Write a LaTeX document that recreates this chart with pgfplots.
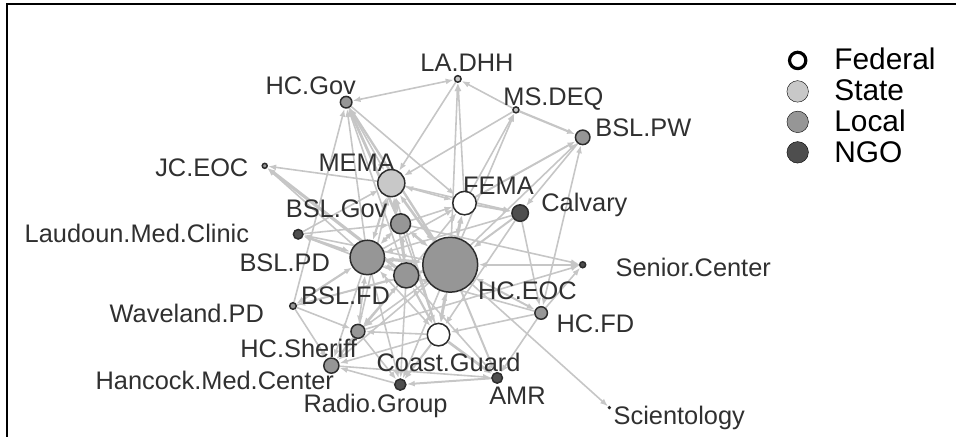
\documentclass[border=0pt]{standalone}
\usepackage{pgfplots}
\pgfplotsset{compat=1.18}
\usetikzlibrary{arrows.meta}
\usepackage{fontspec}
\setmainfont{Liberation Sans}

\definecolor{edgec}{RGB}{198,198,198}
\definecolor{fedc}{RGB}{255,255,255}
\definecolor{statec}{RGB}{200,200,200}
\definecolor{localc}{RGB}{150,150,150}
\definecolor{ngoc}{RGB}{78,78,78}
\definecolor{bordc}{RGB}{45,45,45}
\definecolor{labc}{RGB}{48,48,48}

\newcommand\labfont{\fontsize{25.5}{28}\selectfont}
\newcommand\legfont{\fontsize{30}{31}\selectfont}

% node name, x (px), y (px from top), radius, fill colour
\newcommand\defnode[5]{%
 \expandafter\def\csname nx:#1\endcsname{#2}%
 \expandafter\def\csname ny:#1\endcsname{#3}%
 \expandafter\def\csname nr:#1\endcsname{#4}%
 \expandafter\def\csname nc:#1\endcsname{#5}}

\defnode{HCGov}{346.5}{102.3}{5.8}{localc}
\defnode{LADHH}{458.3}{79}{3.3}{statec}
\defnode{MSDEQ}{516.5}{110}{3}{statec}
\defnode{BSLPW}{583.3}{137.5}{7.3}{localc}
\defnode{JCEOC}{265}{166}{2.5}{localc}
\defnode{MEMA}{391.7}{183.3}{13.6}{statec}
\defnode{FEMA}{465}{203.3}{11.8}{fedc}
\defnode{Calvary}{520.7}{213.3}{8.3}{ngoc}
\defnode{BSLGov}{401}{224}{10}{localc}
\defnode{Laudoun}{298.5}{234.5}{4.8}{ngoc}
\defnode{BSLPD}{367.7}{257.7}{17.3}{localc}
\defnode{HCEOC}{450.7}{265}{27.6}{localc}
\defnode{BSLFD}{406.7}{275.7}{12.6}{localc}
\defnode{Senior}{583.3}{265}{3}{ngoc}
\defnode{Waveland}{293.3}{306.3}{3.3}{localc}
\defnode{HCFD}{541.7}{313.3}{6.3}{localc}
\defnode{Sheriff}{358.3}{331.7}{7}{localc}
\defnode{CG}{439}{335}{11.3}{fedc}
\defnode{Hancock}{331.7}{366}{7.6}{localc}
\defnode{Radio}{400.7}{385}{5.6}{ngoc}
\defnode{AMR}{497.7}{378.3}{5.3}{ngoc}
\defnode{Scient}{610}{408}{0.8}{ngoc}

\pgfplotsset{
  netedge/.style={forget plot, mark=none, color=edgec, line width=1.6pt,
    -{Latex[length=8pt,width=6pt]}},
  bi/.style={{Latex[length=8pt,width=6pt]}-{Latex[length=8pt,width=6pt]}},
}

\newcommand\E[3][]{%
 \pgfmathsetmacro\sa{\csname nr:#2\endcsname+0.8}%
 \pgfmathsetmacro\sb{\csname nr:#3\endcsname+1.0}%
 \edef\tmp{\noexpand\addplot[netedge,#1,shorten <=\sa pt,shorten >=\sb pt] coordinates {(\csname nx:#2\endcsname,\csname ny:#2\endcsname) (\csname nx:#3\endcsname,\csname ny:#3\endcsname)};}\tmp}
\newcommand\B[3][]{\E[bi,#1]{#2}{#3}}

\newcommand\N[1]{%
 \edef\tmp{\noexpand\addplot[forget plot, only marks, mark=*, mark size=\csname nr:#1\endcsname pt, mark options={fill=\csname nc:#1\endcsname, draw=bordc, line width=1.5pt}] coordinates {(\csname nx:#1\endcsname,\csname ny:#1\endcsname)};}\tmp}

\newcommand\Lab[3]{\node[font=\labfont, text=labc, anchor=base, inner sep=0pt] at (axis cs:#1,#2) {#3};}

\begin{document}
\begin{tikzpicture}
\begin{axis}[
  scale only axis, width=957bp, height=437bp,
  xmin=0, xmax=957, ymin=0, ymax=437, y dir=reverse,
  hide axis, clip=false,
]
% ---- edges ----
\B{HCGov}{LADHH}
\E{MSDEQ}{LADHH}
\E[line width=2.2pt]{MSDEQ}{BSLPW}
\E{LADHH}{MEMA}
\E{FEMA}{LADHH}
\E{HCEOC}{LADHH}
\E{MSDEQ}{MEMA}
\E{FEMA}{MSDEQ}
\E{HCEOC}{MSDEQ}
\E[line width=2pt]{FEMA}{BSLPW}
\E{BSLPW}{Calvary}
\E{HCEOC}{BSLPW}
\B{BSLPW}{HCFD}
\E{HCGov}{MEMA}
\E[line width=2.8pt]{BSLGov}{HCGov}
\E[line width=2.4pt]{HCEOC}{HCGov}
\E{BSLPD}{HCGov}
\E{Waveland}{HCGov}
\E{HCGov}{FEMA}
\E{BSLFD}{HCGov}
\E{MEMA}{JCEOC}
\E[line width=3.2pt]{BSLFD}{JCEOC}
\E{BSLPD}{JCEOC}
\B{MEMA}{FEMA}
\B[line width=2.7pt]{MEMA}{HCEOC}
\B[line width=2.2pt]{MEMA}{BSLGov}
\B[line width=2.2pt]{MEMA}{BSLPD}
\E{BSLFD}{MEMA}
\E{CG}{MEMA}
\E{MEMA}{Calvary}
\E{Laudoun}{MEMA}
\E{Sheriff}{MEMA}
\B[line width=2.7pt]{FEMA}{HCEOC}
\E[line width=2pt]{FEMA}{Calvary}
\E{BSLGov}{FEMA}
\E{BSLPD}{FEMA}
\B{FEMA}{CG}
\E{BSLFD}{FEMA}
\E[line width=2pt]{Calvary}{HCEOC}
\E{Calvary}{HCFD}
\E{Calvary}{BSLPD}
\E{Calvary}{CG}
\E[line width=2.2pt]{Senior}{HCEOC}
\E{HCFD}{Senior}
\E{Sheriff}{Senior}
\E{BSLGov}{Senior}
\B[line width=3.2pt]{HCEOC}{BSLPD}
\B[line width=2.7pt]{HCEOC}{BSLFD}
\B[line width=2.7pt]{HCEOC}{BSLGov}
\B[line width=2pt]{HCEOC}{HCFD}
\B[line width=2.7pt]{HCEOC}{CG}
\E[line width=2pt]{HCEOC}{AMR}
\E{HCEOC}{Radio}
\E{HCEOC}{Sheriff}
\E{HCEOC}{Hancock}
\E{HCEOC}{Waveland}
\E{HCEOC}{Laudoun}
\E{HCEOC}{Scient}
\E{HCFD}{CG}
\E{HCFD}{AMR}
\E{HCFD}{BSLFD}
\E[line width=2.7pt]{CG}{AMR}
\E{BSLFD}{AMR}
\E{Hancock}{AMR}
\E[line width=2pt]{AMR}{Radio}
\E[line width=2pt]{CG}{Radio}
\E{BSLFD}{Radio}
\E{BSLPD}{Radio}
\E{Sheriff}{Radio}
\E{Radio}{Hancock}
\E{Sheriff}{Hancock}
\E{BSLFD}{Hancock}
\E{BSLPD}{Hancock}
\E{CG}{Hancock}
\E{Waveland}{Hancock}
\B{Sheriff}{BSLPD}
\B{Sheriff}{BSLFD}
\E{CG}{Sheriff}
\E{Waveland}{Sheriff}
\B[line width=2.2pt]{Waveland}{BSLPD}
\E{Waveland}{BSLFD}
\B[line width=2.2pt]{Laudoun}{BSLPD}
\E{BSLFD}{Laudoun}
\E{Laudoun}{BSLGov}
\B[line width=2.2pt]{CG}{BSLFD}
\B{CG}{BSLPD}
\E{BSLGov}{CG}
\B[line width=2.2pt]{BSLGov}{BSLPD}
\B[line width=2.2pt]{BSLGov}{BSLFD}
\B[line width=2.7pt]{BSLPD}{BSLFD}

% ---- nodes ----
\N{HCGov}\N{LADHH}\N{MSDEQ}\N{BSLPW}\N{JCEOC}\N{MEMA}\N{FEMA}\N{Calvary}
\N{BSLGov}\N{Laudoun}\N{BSLPD}\N{HCEOC}\N{BSLFD}\N{Senior}\N{Waveland}
\N{HCFD}\N{Sheriff}\N{CG}\N{Hancock}\N{Radio}\N{AMR}\N{Scient}

% ---- labels ----
\Lab{467.5}{72}{LA.DHH}
\Lab{311}{95}{HC.Gov}
\Lab{554}{106}{MS.DEQ}
\Lab{644}{137}{BSL.PW}
\Lab{202}{177}{JC.EOC}
\Lab{357}{172}{MEMA}
\Lab{499}{195}{FEMA}
\Lab{585}{212}{Calvary}
\Lab{337}{218}{BSL.Gov}
\Lab{137}{243}{Laudoun.Med.Clinic}
\Lab{285}{272}{BSL.PD}
\Lab{346}{305}{BSL.FD}
\Lab{187}{323}{Waveland.PD}
\Lab{299}{358}{HC.Sheriff}
\Lab{449}{372}{Coast.Guard}
\Lab{215}{390}{Hancock.Med.Center}
\Lab{376}{413}{Radio.Group}
\Lab{528}{300}{HC.EOC}
\Lab{694}{277}{Senior.Center}
\Lab{596}{333}{HC.FD}
\Lab{518}{405}{AMR}
\Lab{680}{425}{Scientology}

% ---- legend (group key) ----
\addplot[forget plot, only marks, mark=*, mark size=8.2pt, mark options={fill=white, draw=black, line width=3.2pt}] coordinates {(798.5,60.5)};
\addplot[forget plot, only marks, mark=*, mark size=10.8pt, mark options={fill=statec, draw=none}] coordinates {(798.5,91.5)};
\addplot[forget plot, only marks, mark=*, mark size=10.8pt, mark options={fill=localc, draw=none}] coordinates {(798.5,122)};
\addplot[forget plot, only marks, mark=*, mark size=10.8pt, mark options={fill=ngoc, draw=none}] coordinates {(798.5,152.5)};
\node[font=\legfont, text=black, anchor=base west, inner sep=0pt] at (axis cs:835,70) {Federal};
\node[font=\legfont, text=black, anchor=base west, inner sep=0pt] at (axis cs:835,101) {State};
\node[font=\legfont, text=black, anchor=base west, inner sep=0pt] at (axis cs:835,132) {Local};
\node[font=\legfont, text=black, anchor=base west, inner sep=0pt] at (axis cs:835,163) {NGO};

% frame (top and left edges)
\draw[black, line width=2pt] (axis cs:7,437) -- (axis cs:7,4) -- (axis cs:957,4);
\path (axis cs:0,0) rectangle (axis cs:957,437);
\end{axis}
\end{tikzpicture}
\end{document}
